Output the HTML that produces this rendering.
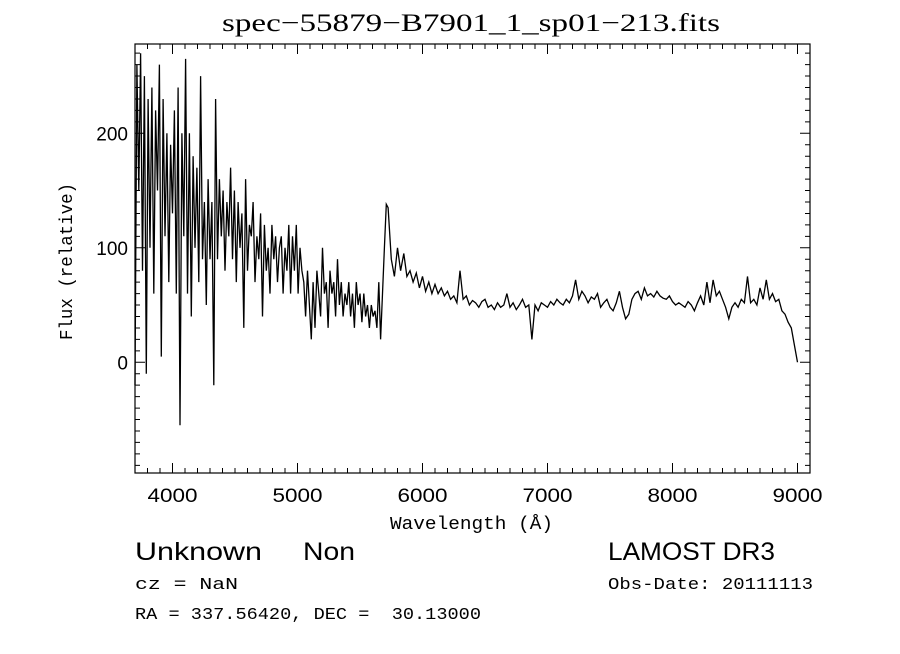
<!DOCTYPE html>
<html><head><meta charset="utf-8"><style>
body{margin:0;background:#fff;width:900px;height:649px;overflow:hidden}
svg text{fill:#000}
</style></head><body>
<svg id="c" width="900" height="649" xmlns="http://www.w3.org/2000/svg">
<text x="222" y="31" textLength="498" lengthAdjust="spacingAndGlyphs" font-family="Liberation Serif, serif" font-size="25">spec−55879−B7901_1_sp01−213.fits</text>
<text x="390" y="529" textLength="163" lengthAdjust="spacingAndGlyphs" font-family="Liberation Mono, monospace" font-size="18">Wavelength (Å)</text>
<text transform="translate(72,340) rotate(-90)" textLength="157" lengthAdjust="spacingAndGlyphs" font-family="Liberation Mono, monospace" font-size="18">Flux (relative)</text>
<text x="135" y="560" textLength="127" lengthAdjust="spacingAndGlyphs" font-family="Liberation Sans, sans-serif" font-size="25">Unknown</text>
<text x="303" y="560" textLength="52" lengthAdjust="spacingAndGlyphs" font-family="Liberation Sans, sans-serif" font-size="25">Non</text>
<text x="608" y="560" textLength="167" lengthAdjust="spacingAndGlyphs" font-family="Liberation Sans, sans-serif" font-size="25">LAMOST DR3</text>
<text x="135" y="589" textLength="103" lengthAdjust="spacingAndGlyphs" font-family="Liberation Mono, monospace" font-size="17">cz = NaN</text>
<text x="608" y="589" textLength="205" lengthAdjust="spacingAndGlyphs" font-family="Liberation Mono, monospace" font-size="17">Obs-Date: 20111113</text>
<text x="135" y="619" textLength="346" lengthAdjust="spacingAndGlyphs" font-family="Liberation Mono, monospace" font-size="17" xml:space="preserve">RA = 337.56420, DEC =  30.13000</text>
<g id="ax"></g>
</svg>
<script>
const xTicks=[4000,5000,6000,7000,8000,9000];
const yTicks=[0,100,200];
const blueStart=3700, blueStep=15;
const blueFlux=[-20,260,150,270,80,250,-10,230,100,240,60,220,150,260,5,230,110,200,70,190,130,220,60,240,-55,200,110,265,60,200,40,180,100,170,70,250,90,140,50,160,90,140,-20,230,90,160,110,150,80,140,110,170,90,150,70,140,100,130,30,160,80,120,110,140,70,110,90,130,40,120,80,100,60,120,90,110,70,100,110,60,100,80,120,60,110,80,120,60,100,80,70,40,80,50,20,70,30,80,60,40,100,60,70,30,80,60,70,40,90,50,70,40,60,50,70,40,60,30,70,50,60,35,60,40,50,30,50,40,45,30,70,20,60,100,138,135];
const redStart=5750, redStep=25;
const redFlux=[90,75,100,80,95,75,80,70,78,65,75,62,70,60,68,60,65,58,62,55,58,52,80,55,58,50,54,52,48,53,55,48,50,46,52,48,50,60,48,52,46,50,55,48,50,20,50,45,52,50,48,53,50,55,52,50,55,52,58,72,55,62,58,52,57,55,60,48,52,55,48,45,52,62,48,38,42,55,60,62,55,65,58,60,57,62,58,56,55,58,53,50,52,50,48,53,50,45,52,58,50,70,52,72,58,62,55,48,38,48,52,48,55,52,75,52,55,50,65,55,72,55,60,53,55,45,42,35,30,15,0];
const L=135,R=810,T=44,B=473,X0=3700,X1=9100,Y0=-96.7,Y1=278;
const sx=w=>L+(w-X0)/(X1-X0)*(R-L);
const sy=f=>B-(f-Y0)/(Y1-Y0)*(B-T);
const NS='http://www.w3.org/2000/svg';
const ax=document.getElementById('ax');
function mk(t,a){const e=document.createElementNS(NS,t);for(const k in a)e.setAttribute(k,a[k]);ax.appendChild(e);return e;}
let d='';
for(let w=3800;w<=9100;w+=100){const x=sx(w),big=xTicks.includes(w),h=big?10:5;d+=`M${x},${B}v${-h}M${x},${T}v${h}`;}
for(let f=-90;f<=270;f+=10){const y=sy(f),big=yTicks.includes(f),h=big?10:5;d+=`M${L},${y}h${h}M${R},${y}h${-h}`;}
const tk=mk('path',{d:d,stroke:'#000','stroke-width':1,fill:'none'});


xTicks.forEach(v=>{const t=mk('text',{x:sx(v)-25,y:B+29,textLength:50,lengthAdjust:'spacingAndGlyphs','font-family':'Liberation Sans, sans-serif','font-size':19});t.textContent=v;

});
yTicks.forEach(v=>{const t=mk('text',{x:128,y:sy(v)+7,'text-anchor':'end','font-family':'Liberation Sans, sans-serif','font-size':19});t.textContent=v;

});
let pts=[];
blueFlux.forEach((f,i)=>pts.push(sx(blueStart+i*blueStep).toFixed(1)+','+sy(f).toFixed(1)));
redFlux.forEach((f,i)=>pts.push(sx(redStart+i*redStep).toFixed(1)+','+sy(f).toFixed(1)));
const line=mk('polyline',{points:pts.join(' '),fill:'none',stroke:'#000','stroke-width':1.3});


const fr=mk('rect',{x:L,y:T,width:R-L,height:B-T,fill:'none',stroke:'#000','stroke-width':1.2});


</script>
</body></html>
